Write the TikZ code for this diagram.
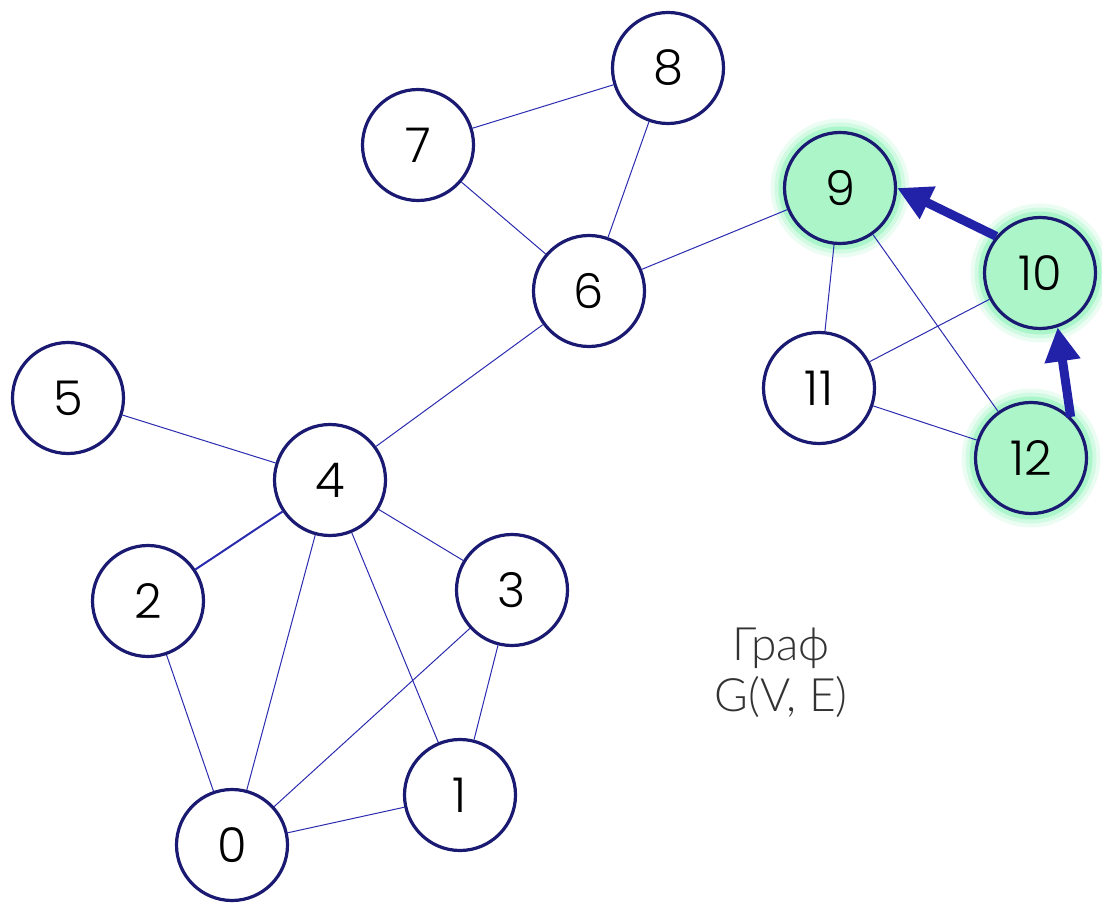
\documentclass[tikz,border=0pt]{standalone}
\usepackage{fontspec}
\setmainfont{Poppins}[UprightFont={* Light}]
\newfontfamily\labelfont{Lato}[UprightFont={* Light}]
\usetikzlibrary{arrows.meta,shapes,positioning}

\definecolor{vertexblue}{HTML}{1A1A72}
\definecolor{edgeblue}{HTML}{2B2BB0}
\definecolor{arrowblue}{HTML}{2222A8}
\definecolor{activegreen}{HTML}{ABF5C9}
\definecolor{glowgreen}{HTML}{7CF0AE}

\begin{document}
\begin{tikzpicture}[x=0.5pt,y=-0.5pt]

	\tikzstyle{vertex} = [
		circle,
		draw=vertexblue,
		line width=1.6pt,
		fill=white,
		minimum size=55.5pt,
		inner sep=0pt,
		font=\fontsize{24}{24}\selectfont
	]
	\tikzstyle{active} = [
		vertex,
		fill=activegreen,
		preaction={draw=glowgreen, opacity=0.15, line width=14pt},
		preaction={draw=glowgreen, opacity=0.25, line width=10pt},
		preaction={draw=glowgreen, opacity=0.45, line width=6pt}
	]
	\tikzstyle{edge} = [draw=edgeblue, line width=0.5pt]
	\tikzstyle{walk} = [draw=arrowblue, line width=4.5pt, -{Triangle[length=17pt,width=17pt]}]

	\useasboundingbox (0,0) rectangle (1102,903);

	\node (n0) [style=vertex] at (232,845) {0};
	\node (n1) [style=vertex] at (460,795) {1};
	\node (n2) [style=vertex] at (148,601) {2};
	\node (n3) [style=vertex] at (512,590) {3};
	\node (n4) [style=vertex] at (330,480) {4};
	\node (n5) [style=vertex] at (68,398) {5};
	\node (n6) [style=vertex] at (589,291) {6};
	\node (n7) [style=vertex] at (418,145) {7};
	\node (n8) [style=vertex] at (668,68) {8};
	\node (n9) [style=active] at (840,188) {9};
	\node (n10) [style=active] at (1040,273) {10};
	\node (n11) [style=vertex] at (819,388) {11};
	\node (n12) [style=active] at (1031,458) {12};

	\draw [style=edge] (n0) -- (n1);
	\draw [style=edge] (n0) -- (n2);
	\draw [style=edge] (n0) -- (n3);
	\draw [style=edge] (n0) -- (n4);
	\draw [style=edge] (n1) -- (n3);
	\draw [style=edge] (n1) -- (n4);
	\draw [style=edge, line width=1pt] (n2) -- (n4);
	\draw [style=edge] (n3) -- (n4);
	\draw [style=edge] (n4) -- (n5);
	\draw [style=edge] (n4) -- (n6);
	\draw [style=edge] (n6) -- (n7);
	\draw [style=edge] (n6) -- (n8);
	\draw [style=edge] (n7) -- (n8);
	\draw [style=edge] (n6) -- (n9);
	\draw [style=edge] (n9) -- (n11);
	\draw [style=edge] (n9) -- (n12);
	\draw [style=edge] (n10) -- (n11);
	\draw [style=edge] (n11) -- (n12);

	\draw [style=walk] (n10.140) -- (n9.0);
	\draw [style=walk] (n12.46) -- (n10.-72);

	\node (title) [align=center, text=black!80, font=\labelfont\fontsize{23}{25.5}\selectfont] at (781,673) {Граф\\G(V, E)};

\end{tikzpicture}
\end{document}
